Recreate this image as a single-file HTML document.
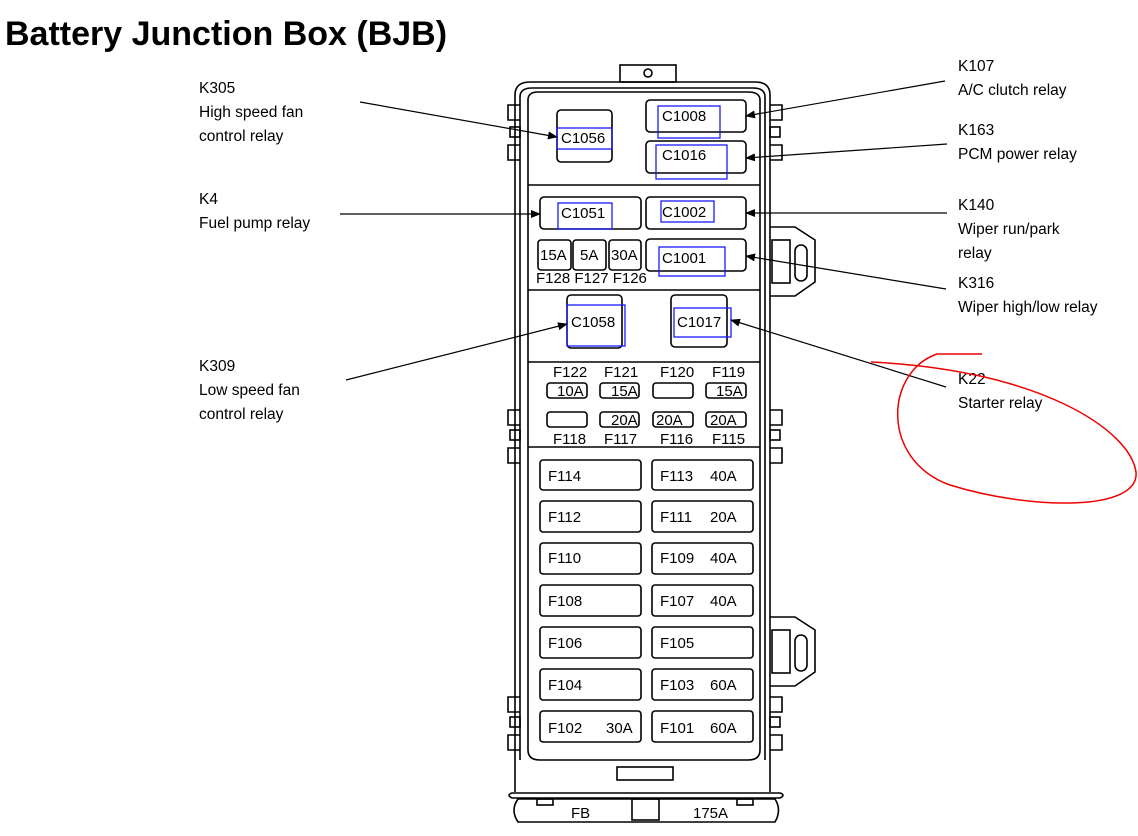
<!DOCTYPE html>
<html><head><meta charset="utf-8"><style>
html,body{margin:0;padding:0;background:#fff;width:1138px;height:836px;overflow:hidden}
svg{display:block}
text{font-family:"Liberation Sans",sans-serif;fill:#000}
.l{font-size:15.5px}
.b{font-size:15px}
</style></head><body>
<svg width="1138" height="836" viewBox="0 0 1138 836" xmlns="http://www.w3.org/2000/svg">
<defs><marker id="a" markerWidth="10" markerHeight="8" refX="9" refY="4" orient="auto" markerUnits="userSpaceOnUse"><path d="M0,0 L10,4 L0,8 Z" fill="#000"/></marker></defs>
<text x="5" y="45" style="font-size:34px;font-weight:bold">Battery Junction Box (BJB)</text>

<g fill="none" stroke="#000" stroke-width="1.6">
<rect x="620" y="65" width="56" height="17"/>
<circle cx="648" cy="73" r="4"/>
<path d="M515,792 L515,95 Q515,82 530,82 L755,82 Q770,82 770,95 L770,792"/>
<path d="M520,760 L520,97 Q520,88 532,88 L753,88 Q765,88 765,97 L765,760"/>
<path d="M528,750 L528,100 Q528,92 538,92 L748,92 Q760,92 760,100 L760,750 Q760,760 748,760 L540,760 Q528,760 528,750 Z"/>
<line x1="528" y1="185" x2="760" y2="185"/>
<line x1="528" y1="290" x2="760" y2="290"/>
<line x1="528" y1="362" x2="760" y2="362"/>
<line x1="528" y1="447" x2="760" y2="447"/>
<rect x="617" y="767" width="56" height="13"/>
<path d="M512,793 L780,793 Q786,795 780,798 L512,798 Q506,795 512,793 Z"/>
<path d="M518,799 L775,799 Q782,810 775,822 L518,822 Q510,810 518,799 Z"/>
<rect x="632" y="799" width="27" height="21"/>
<rect x="537" y="799" width="16" height="6"/>
<rect x="737" y="799" width="16" height="6"/>
<path d="M520,105 L508,105 L508,120 L520,120"/><rect x="510" y="127" width="10" height="10"/><path d="M520,145 L508,145 L508,160 L520,160"/>
<path d="M520,410 L508,410 L508,425 L520,425"/><rect x="510" y="430" width="10" height="10"/><path d="M520,448 L508,448 L508,463 L520,463"/>
<path d="M520,697 L508,697 L508,712 L520,712"/><rect x="510" y="717" width="10" height="10"/><path d="M520,735 L508,735 L508,750 L520,750"/>
<path d="M770,105 L782,105 L782,120 L770,120"/><rect x="770" y="127" width="10" height="10"/><path d="M770,145 L782,145 L782,160 L770,160"/>
<path d="M770,410 L782,410 L782,425 L770,425"/><rect x="770" y="430" width="10" height="10"/><path d="M770,448 L782,448 L782,463 L770,463"/>
<path d="M770,697 L782,697 L782,712 L770,712"/><rect x="770" y="717" width="10" height="10"/><path d="M770,735 L782,735 L782,750 L770,750"/>
<path d="M770,227 L795,227 L815,240 L815,282 L795,296 L770,296"/><rect x="772" y="240" width="18" height="43"/><rect x="795" y="245" width="12" height="36" rx="6"/>
<path d="M770,617 L795,617 L815,630 L815,672 L795,686 L770,686"/><rect x="772" y="630" width="18" height="43"/><rect x="795" y="635" width="12" height="36" rx="6"/>
<rect x="557" y="110" width="55" height="52" rx="4"/>
<rect x="646" y="100" width="100" height="32" rx="4"/>
<rect x="646" y="141" width="100" height="32" rx="4"/>
<rect x="540" y="197" width="101" height="32" rx="4"/>
<rect x="646" y="197" width="100" height="32" rx="4"/>
<rect x="538" y="240" width="33" height="30" rx="3"/>
<rect x="573" y="240" width="33" height="30" rx="3"/>
<rect x="609" y="240" width="32" height="30" rx="3"/>
<rect x="646" y="239" width="100" height="32" rx="4"/>
<rect x="567" y="295" width="55" height="53" rx="4"/>
<rect x="671" y="295" width="56" height="52" rx="4"/>
<rect x="547" y="383" width="40" height="15" rx="3"/><rect x="600" y="383" width="39" height="15" rx="3"/><rect x="653" y="383" width="40" height="15" rx="3"/><rect x="706" y="383" width="40" height="15" rx="3"/>
<rect x="547" y="412" width="40" height="15" rx="3"/><rect x="600" y="412" width="39" height="15" rx="3"/><rect x="653" y="412" width="40" height="15" rx="3"/><rect x="706" y="412" width="40" height="15" rx="3"/>
<rect x="540" y="460" width="101" height="30" rx="3"/><rect x="652" y="460" width="101" height="30" rx="3"/>
<rect x="540" y="501" width="101" height="31" rx="3"/><rect x="652" y="501" width="101" height="31" rx="3"/>
<rect x="540" y="543" width="101" height="31" rx="3"/><rect x="652" y="543" width="101" height="31" rx="3"/>
<rect x="540" y="585" width="101" height="31" rx="3"/><rect x="652" y="585" width="101" height="31" rx="3"/>
<rect x="540" y="627" width="101" height="31" rx="3"/><rect x="652" y="627" width="101" height="31" rx="3"/>
<rect x="540" y="669" width="101" height="31" rx="3"/><rect x="652" y="669" width="101" height="31" rx="3"/>
<rect x="540" y="711" width="101" height="31" rx="3"/><rect x="652" y="711" width="101" height="31" rx="3"/>
</g>

<g class="b">
<text x="561" y="143">C1056</text>
<text x="662" y="121">C1008</text>
<text x="662" y="160">C1016</text>
<text x="561" y="218">C1051</text>
<text x="662" y="217">C1002</text>
<text x="662" y="263">C1001</text>
<text x="571" y="327">C1058</text>
<text x="677" y="327">C1017</text>
<text x="540" y="260">15A</text><text x="580" y="260">5A</text><text x="611" y="260">30A</text>
<text x="536" y="283" style="font-size:15px">F128 F127 F126</text>
<text x="553" y="377">F122</text><text x="604" y="377">F121</text><text x="660" y="377">F120</text><text x="712" y="377">F119</text>
<text x="557" y="396">10A</text><text x="611" y="396">15A</text><text x="716" y="396">15A</text>
<text x="611" y="425">20A</text><text x="656" y="425">20A</text><text x="710" y="425">20A</text>
<text x="553" y="444">F118</text><text x="604" y="444">F117</text><text x="660" y="444">F116</text><text x="712" y="444">F115</text>
<text x="548" y="481">F114</text><text x="660" y="481">F113</text><text x="710" y="481">40A</text>
<text x="548" y="522">F112</text><text x="660" y="522">F111</text><text x="710" y="522">20A</text>
<text x="548" y="563">F110</text><text x="660" y="563">F109</text><text x="710" y="563">40A</text>
<text x="548" y="606">F108</text><text x="660" y="606">F107</text><text x="710" y="606">40A</text>
<text x="548" y="648">F106</text><text x="660" y="648">F105</text>
<text x="548" y="690">F104</text><text x="660" y="690">F103</text><text x="710" y="690">60A</text>
<text x="548" y="733">F102</text><text x="606" y="733">30A</text><text x="660" y="733">F101</text><text x="710" y="733">60A</text>
<text x="571" y="818">FB</text><text x="693" y="818">175A</text>
</g>

<g fill="none" stroke="#1a1aff" stroke-width="1.3">
<rect x="557" y="128" width="55" height="21"/>
<rect x="658" y="106" width="62" height="32"/>
<rect x="656" y="145" width="71" height="34"/>
<rect x="558" y="203" width="54" height="26"/>
<rect x="661" y="201" width="53" height="21"/>
<rect x="659" y="247" width="66" height="29"/>
<rect x="567" y="305" width="58" height="41"/>
<rect x="674" y="308" width="57" height="29"/>
</g>

<g stroke="#000" stroke-width="1.2" fill="none" marker-end="url(#a)">
<line x1="360" y1="102" x2="557" y2="137"/>
<line x1="340" y1="214" x2="540" y2="214"/>
<line x1="346" y1="380" x2="567" y2="324"/>
<line x1="945" y1="81" x2="746" y2="116"/>
<line x1="947" y1="144" x2="746" y2="158"/>
<line x1="947" y1="213" x2="746" y2="213"/>
<line x1="946" y1="289" x2="746" y2="256"/>
<line x1="946" y1="387" x2="731" y2="320"/>
</g>

<g class="l">
<text x="199" y="93">K305</text><text x="199" y="117">High speed fan</text><text x="199" y="141">control relay</text>
<text x="199" y="204">K4</text><text x="199" y="228">Fuel pump relay</text>
<text x="199" y="371">K309</text><text x="199" y="395">Low speed fan</text><text x="199" y="419">control relay</text>
<text x="958" y="71">K107</text><text x="958" y="95">A/C clutch relay</text>
<text x="958" y="135">K163</text><text x="958" y="159">PCM power relay</text>
<text x="958" y="210">K140</text><text x="958" y="234">Wiper run/park</text><text x="958" y="258">relay</text>
<text x="958" y="288">K316</text><text x="958" y="312">Wiper high/low relay</text>
<text x="958" y="384">K22</text><text x="958" y="408">Starter relay</text>
</g>

<path d="M982,354 L937,354 C885,372 880,460 950,485 C1030,510 1140,512 1136,472 C1130,430 1040,370 871,362" fill="none" stroke="#e00" stroke-width="1.5"/>
</svg>
</body></html>
